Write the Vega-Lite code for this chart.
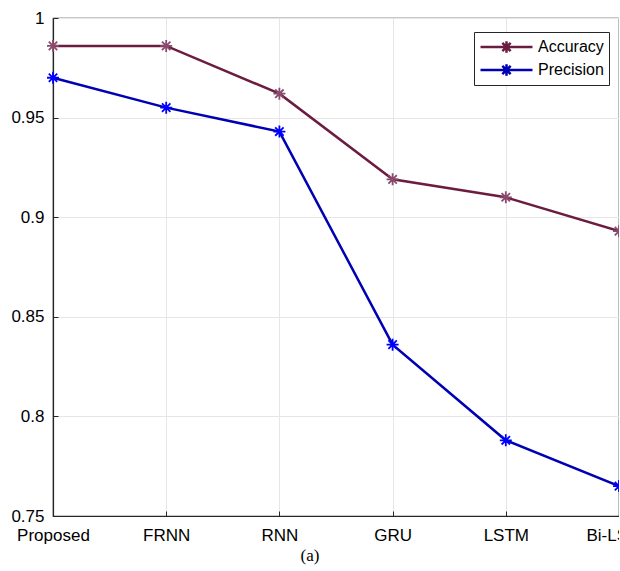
{
  "$schema": "https://vega.github.io/schema/vega-lite/v6.json",
  "autosize": {"type": "none"},
  "width": 566,
  "height": 498,
  "padding": {"left": 53, "top": 18, "right": 0, "bottom": 55},
  "background": "white",
  "title": {"text": "(a)", "orient": "bottom", "font": "Liberation Serif", "fontSize": 17, "fontWeight": "normal", "color": "black", "dx": -26, "offset": 5},
  "data": {
    "values": [
      {"model": "Proposed", "series": "Accuracy", "value": 0.986},
      {"model": "FRNN", "series": "Accuracy", "value": 0.986},
      {"model": "RNN", "series": "Accuracy", "value": 0.962},
      {"model": "GRU", "series": "Accuracy", "value": 0.919},
      {"model": "LSTM", "series": "Accuracy", "value": 0.910},
      {"model": "Bi-LSTM", "series": "Accuracy", "value": 0.893},
      {"model": "Proposed", "series": "Precision", "value": 0.970},
      {"model": "FRNN", "series": "Precision", "value": 0.955},
      {"model": "RNN", "series": "Precision", "value": 0.943},
      {"model": "GRU", "series": "Precision", "value": 0.836},
      {"model": "LSTM", "series": "Precision", "value": 0.788},
      {"model": "Bi-LSTM", "series": "Precision", "value": 0.765}
    ]
  },
  "encoding": {
    "x": {
      "field": "model", "type": "ordinal",
      "sort": ["Proposed", "FRNN", "RNN", "GRU", "LSTM", "Bi-LSTM"],
      "scale": {"type": "point", "padding": 0},
      "axis": {"title": null, "labelAngle": 0, "labelFlush": false, "labelOverlap": false, "labelPadding": 16, "tickSize": -5, "grid": true}
    },
    "y": {
      "field": "value", "type": "quantitative",
      "scale": {"domain": [0.75, 1], "nice": false, "zero": false},
      "axis": {"title": null, "values": [0.75, 0.8, 0.85, 0.9, 0.95, 1], "format": "~g", "labelPadding": 14, "tickSize": -5, "grid": true}
    }
  },
  "layer": [
    {
      "mark": {"type": "line", "strokeWidth": 2.5},
      "encoding": {
        "color": {
          "field": "series", "type": "nominal",
          "scale": {"domain": ["Accuracy", "Precision"], "range": ["#6a1d40", "#0000b4"]},
          "legend": {
            "title": null, "orient": "none", "legendX": 421, "legendY": 14,
            "symbolType": "M-1,0H1M0,-0.22V0.22M-0.22,0H0.22M-0.16,-0.16L0.16,0.16M-0.16,0.16L0.16,-0.16",
            "symbolSize": 2704, "symbolStrokeWidth": 2.5, "symbolFillColor": "transparent",
            "clipHeight": 20, "rowPadding": 3, "labelOffset": 4,
            "labelFont": "Liberation Sans", "labelFontSize": 16, "labelColor": "black",
            "padding": 5, "strokeColor": "#262626", "fillColor": "white", "cornerRadius": 0
          }
        }
      }
    },
    {
      "mark": {"type": "point", "shape": "M-1,0H1M0,-1V1M-0.7,-0.7L0.7,0.7M-0.7,0.7L0.7,-0.7", "filled": false, "size": 144, "strokeWidth": 1.8, "opacity": 1},
      "encoding": {
        "color": {
          "field": "series", "type": "nominal",
          "scale": {"domain": ["Accuracy", "Precision"], "range": ["#8a4a6c", "#0000ff"]},
          "legend": null
        }
      }
    }
  ],
  "resolve": {"scale": {"color": "independent"}},
  "config": {
    "view": {"stroke": "#262626", "strokeWidth": 1.2},
    "axis": {
      "domainColor": "#262626", "domainWidth": 1.2, "tickColor": "#262626", "gridColor": "#e6e6e6", "gridWidth": 1,
      "labelFont": "Liberation Sans", "labelFontSize": 17, "labelColor": "black"
    }
  }
}
